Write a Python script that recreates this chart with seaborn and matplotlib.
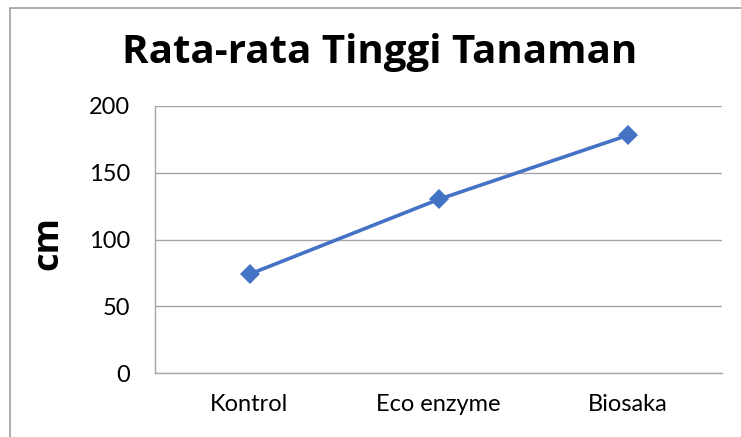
import matplotlib
matplotlib.use("Agg")
import matplotlib.pyplot as plt
import seaborn as sns
import pandas as pd
from matplotlib.lines import Line2D

categories = ["Kontrol", "Eco enzyme", "Biosaka"]
values = [74, 130, 178]
yticks = [0, 50, 100, 150, 200]

sns.set_theme(style="white")
plt.rcParams['font.family'] = ['Lato', 'DejaVu Sans']
plt.rcParams['text.color'] = 'black'

W, H = 741, 437
fig = plt.figure(figsize=(W / 100, H / 100), dpi=100)
ax = fig.add_axes([155 / W, 1 - 373 / H, (722 - 155) / W, (373 - 106) / H])

df = pd.DataFrame({"cat": categories, "val": values})
sns.lineplot(data=df, x="cat", y="val", ax=ax, sort=False, color="#4472C4",
             linewidth=2.6, marker="D", markersize=10, markeredgewidth=0)

ax.set_xlim(-0.5, len(categories) - 0.5)
ax.set_ylim(0, 200)
ax.set_yticks(yticks)
ax.set_yticklabels([str(t) for t in yticks])
ax.yaxis.grid(True, color="#a6a6a6", linewidth=1.0)
ax.xaxis.grid(False)
for s in ["top", "right"]:
    ax.spines[s].set_visible(False)
for s in ["left", "bottom"]:
    ax.spines[s].set_color("#a6a6a6")
    ax.spines[s].set_linewidth(1.0)
ax.tick_params(axis="both", length=0, labelsize=17, colors="#000000")
ax.tick_params(axis="y", pad=18)
ax.tick_params(axis="x", pad=15)
ax.set_xlabel("")
ax.set_ylabel("")

fig.text(48 / W, 1 - 243 / H, "cm", rotation=90, ha="center", va="center", color="black",
         fontsize=26, fontweight="bold", family=["Open Sans", "DejaVu Sans"])
fig.text(380 / W, 1 - 52 / H, "Rata-rata Tinggi Tanaman", ha="center", va="center",
         color="black", fontsize=29, fontweight="bold", family=["Open Sans", "DejaVu Sans"])

# figure border (left and top only visible)
fig.add_artist(Line2D([9.5 / W, 9.5 / W], [0, 1 - 7.5 / H], transform=fig.transFigure,
                      color="#a0a0a0", linewidth=1.2))
fig.add_artist(Line2D([9.5 / W, 1], [1 - 7.5 / H, 1 - 7.5 / H], transform=fig.transFigure,
                      color="#a0a0a0", linewidth=1.2))

fig.savefig("out.png", dpi=100)
